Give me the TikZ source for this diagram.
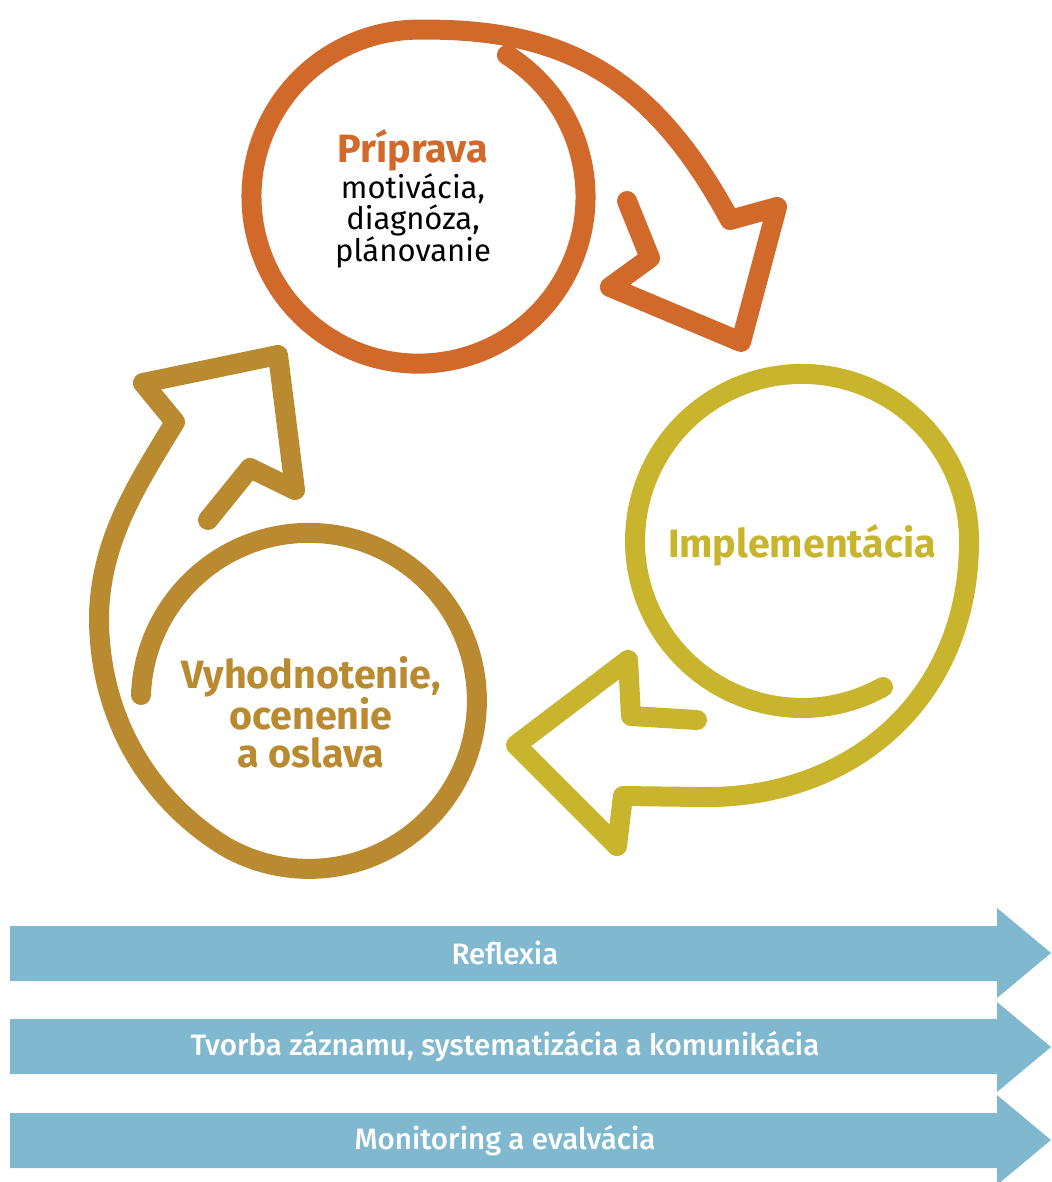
\documentclass[tikz,border=0pt]{standalone}
\usepackage{fontspec}
\setmainfont{Fira Sans}
\newfontfamily\bandfont{Fira Sans Medium}
\definecolor{prepcolor}{HTML}{D0692A}
\definecolor{implcolor}{HTML}{C9B42E}
\definecolor{evalcolor}{HTML}{BA8A30}
\definecolor{bandcolor}{HTML}{7FB8CF}

\begin{document}
\begin{tikzpicture}
[x=1pt, y=-1pt,
 cyclepath/.style={line width=20pt, line cap=round, line join=round},
 phase/.style={font=\fontsize{39.5}{37.5}\selectfont\bfseries, align=center, inner sep=0pt},
 detail/.style={font=\fontsize{31}{28}\selectfont, align=center, inner sep=0pt},
 band/.style={fill=bandcolor},
 bandtext/.style={font=\bandfont\fontsize{29.5}{30}\selectfont, text=white, inner sep=0pt}]

\useasboundingbox (0,0) rectangle (1051,1182);

%Cycle
\draw[cyclepath, prepcolor] (507,55) arc[start angle=-58, end angle=270, radius=167]
  .. controls (560,28) and (650,72) .. (730,220) -- (777,207) -- (741,342) -- (610,287) -- (650,258) -- (627,201);
\draw[cyclepath, implcolor] (883,687) arc[start angle=61, end angle=360, radius=167]
  .. controls (969,700) and (850,800) .. (700,797) -- (623,796) -- (617,846) -- (516,745) -- (628,660) -- (631,716) -- (697,720);
\draw[cyclepath, evalcolor] (141,695) arc[start angle=182, end angle=480, radius=168]
  .. controls (150,800) and (100,720) .. (99,620) .. controls (99,540) and (140,480) .. (175,422)
  -- (143,383) -- (278,355) -- (295,490) -- (250,468) -- (208,520);

%Labels
\node[phase, text=prepcolor, anchor=base] (priprava) at (413,163) {Príprava};
\node[detail] (pripravadetail) at (413,221) {motivácia,\\diagnóza,\\plánovanie};
\node[phase, text=implcolor, anchor=base] (implementacia) at (802,557) {Implementácia};
\node[phase, text=evalcolor] (vyhodnotenie) at (311,712) {Vyhodnotenie,\\ocenenie\\a oslava};

%Bands
\fill[band] (10,926) -- (997,926) -- (997,908) -- (1051,953) -- (997,998) -- (997,981) -- (10,981) -- cycle;
\fill[band] (10,1019) -- (997,1019) -- (997,1002) -- (1051,1047) -- (997,1092) -- (997,1074) -- (10,1074) -- cycle;
\fill[band] (10,1113) -- (997,1113) -- (997,1095) -- (1051,1140) -- (997,1185) -- (997,1168) -- (10,1168) -- cycle;
\node[bandtext] (reflexia) at (505,953) {Reflexia};
\node[bandtext] (zaznam) at (505,1047) {Tvorba záznamu, systematizácia a komunikácia};
\node[bandtext] (monitoring) at (505,1141) {Monitoring a evalvácia};

\end{tikzpicture}
\end{document}
